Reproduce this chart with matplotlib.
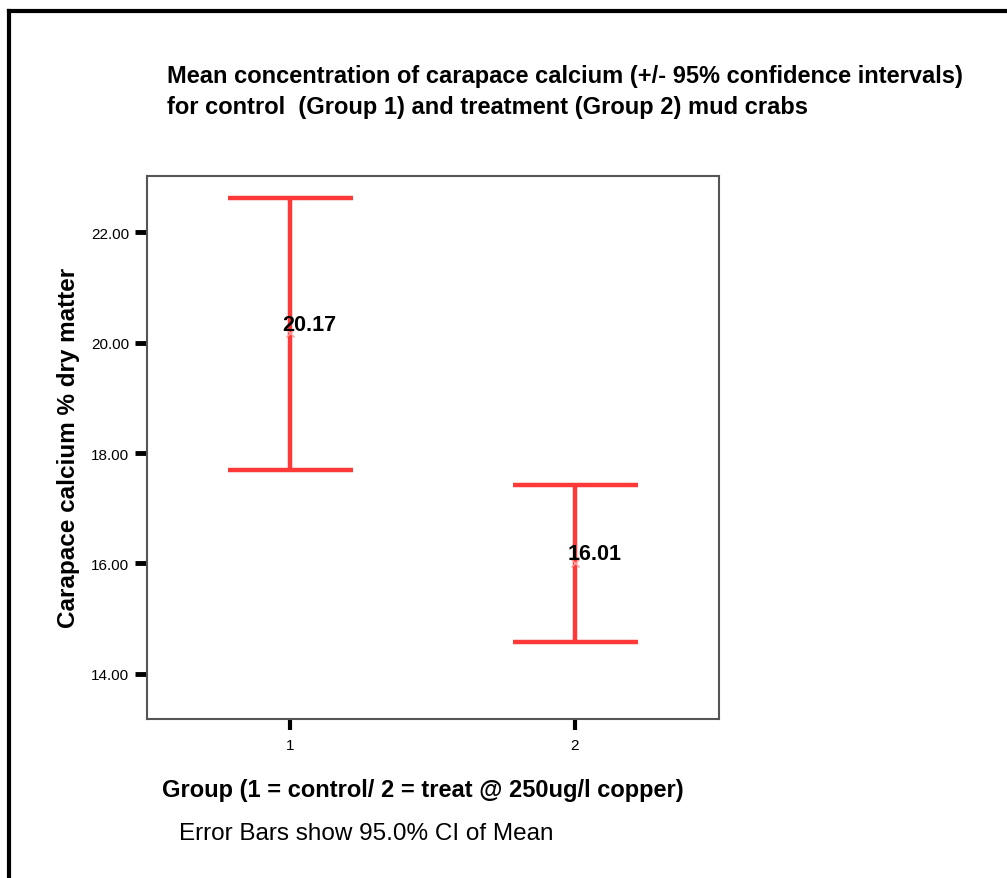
import numpy as np
import matplotlib.pyplot as plt
from matplotlib.lines import Line2D

plt.rcParams['font.family'] = ['Liberation Sans', 'DejaVu Sans']

# Group means with their 95% confidence limits
groups = [1, 2]
means = [20.17, 16.01]
ci_lower = [17.69, 14.58]
ci_upper = [22.63, 17.42]
yticks = [14.0, 16.0, 18.0, 20.0, 22.0]

red = '#ff3838'

fig = plt.figure(figsize=(10.07, 8.79), dpi=100)
ax = fig.add_axes([0.146, 0.181, 0.568, 0.618])

# outer frame of the chart (runs off the right and bottom edges)
fig.add_artist(Line2D([0.009, 0.009], [0.0, 0.986], transform=fig.transFigure,
                      color='black', lw=3))
fig.add_artist(Line2D([0.009, 1.0], [0.986, 0.986], transform=fig.transFigure,
                      color='black', lw=3))

means = np.array(means)
yerr = np.vstack([means - np.array(ci_lower), np.array(ci_upper) - means])
ax.errorbar(groups, means, yerr=yerr, fmt='none', ecolor=red, elinewidth=3.2,
            capsize=45, capthick=3.2)
ax.plot(groups, means, 'x', color='#ff9a9a', ms=6, mew=1)

for g, m in zip(groups, means):
    ax.annotate('%.2f' % m, (g, m), xytext=(-5, -1), textcoords='offset points',
                ha='left', va='bottom', fontsize=15.5, fontweight='bold')

ax.set_xlim(0.5, 2.505)
ax.set_ylim(13.18, 23.03)
ax.set_xticks(groups)
ax.set_xticklabels([str(g) for g in groups], fontsize=11)
ax.set_yticks(yticks)
ax.set_yticklabels(['%.2f' % t for t in yticks], fontsize=11)
ax.tick_params(axis='y', length=9, width=3.5, pad=4)
ax.tick_params(axis='x', length=8, width=3, pad=6)
for s in ax.spines.values():
    s.set_color('#555555')
    s.set_linewidth(1.5)

ax.set_ylabel('Carapace calcium % dry matter', fontsize=17.5, fontweight='bold',
              labelpad=8)

fig.text(0.166, 0.895,
         'Mean concentration of carapace calcium (+/- 95% confidence intervals)\n'
         'for control  (Group 1) and treatment (Group 2) mud crabs',
         fontsize=17, fontweight='bold', ha='left', va='center',
         linespacing=1.45)
fig.text(0.42, 0.101, 'Group (1 = control/ 2 = treat @ 250ug/l copper)',
         fontsize=17, fontweight='bold', ha='center', va='center')
fig.text(0.178, 0.051, 'Error Bars show 95.0% CI of Mean', fontsize=17.5,
         ha='left', va='center')

fig.savefig('out.png', dpi=100)
